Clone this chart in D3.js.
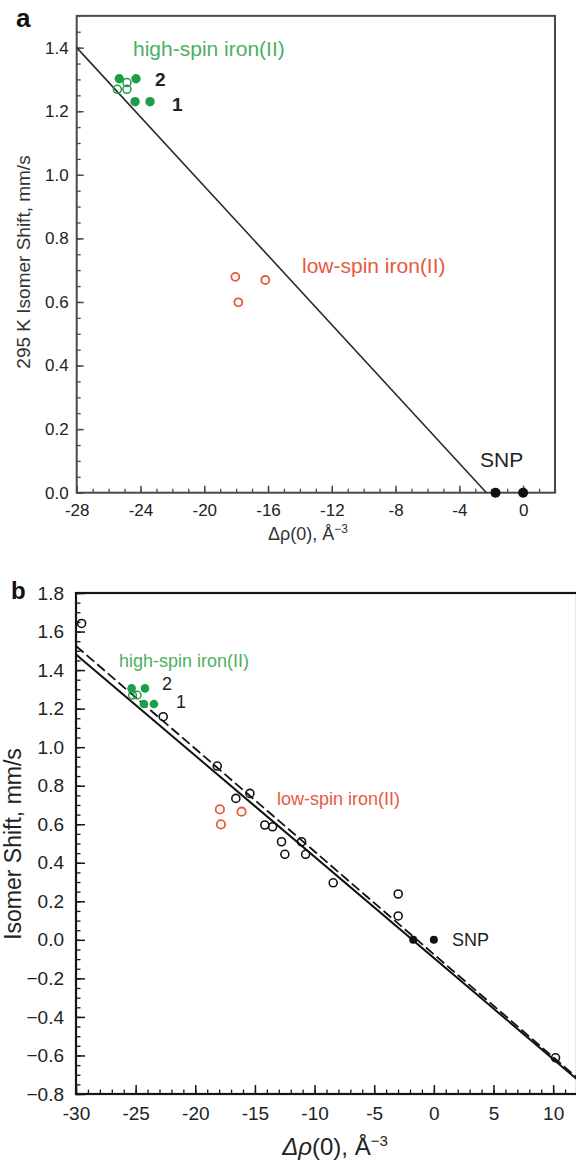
<!DOCTYPE html>
<html><head><meta charset="utf-8">
<script src="https://cdn.jsdelivr.net/npm/d3@7"></script>
<style>
body{margin:0;background:#fff;}
svg{display:block;font-family:"Liberation Sans",Arial,Helvetica,sans-serif;}
</style></head>
<body>
<svg id="c" width="576" height="1160"></svg>
<script>
// ---------- Panel a data ----------
const aXTicks = [-28,-24,-20,-16,-12,-8,-4,0];
const aYTicks = [0,0.2,0.4,0.6,0.8,1.0,1.2,1.4];
const aGreenFilledX = [-25.33,-24.28,-24.34,-23.4];
const aGreenFilledY = [1.302,1.302,1.230,1.230];
const aGreenOpenX = [-25.45,-24.85,-24.85];
const aGreenOpenY = [1.269,1.290,1.269];
const aRedOpenX = [-18.05,-16.17,-17.86];
const aRedOpenY = [0.679,0.669,0.599];
const aSNPX = [-1.73,0];
const aSNPY = [0,0];
const aLineX = [-28,-2.3];
const aLineY = [1.4,0];

// ---------- Panel b data ----------
const bXTicks = [-30,-25,-20,-15,-10,-5,0,5,10];
const bYTicks = [-0.8,-0.6,-0.4,-0.2,0.0,0.2,0.4,0.6,0.8,1.0,1.2,1.4,1.6,1.8];
const bBlackOpenX = [-29.53,-22.69,-18.16,-16.6,-15.42,-14.17,-13.52,-12.77,-12.49,-11.09,-10.75,-8.44,-2.99,-2.99,10.2];
const bBlackOpenY = [1.642,1.158,0.902,0.734,0.760,0.596,0.587,0.509,0.444,0.509,0.444,0.296,0.238,0.124,-0.612];
const bGreenFilledX = [-25.34,-24.22,-24.31,-23.47];
const bGreenFilledY = [1.305,1.305,1.224,1.224];
const bGreenOpenX = [-25.26,-24.87];
const bGreenOpenY = [1.270,1.270];
const bRedOpenX = [-17.94,-16.12,-17.85];
const bRedOpenY = [0.677,0.665,0.599];
const bSNPX = [-1.73,0];
const bSNPY = [0,0];
const bSolidX = [-30,12];
const bSolidY = [1.481,-0.724];
const bDashX = [-30,12];
const bDashY = [1.525,-0.715];

const GREEN = "#1f9e4a", GREEN_TXT = "#4bb062", RED = "#e65a3e";
const svg = d3.select("#c");
const zip = (xs, ys) => xs.map((x,i)=>[x, ys[i]]);

function axes(g, x, y, o) {
  // minor ticks
  g.append("g").attr("transform",`translate(0,${y.range()[0]})`)
    .call(d3.axisBottom(x).tickValues(o.xMinor).tickSize(-o.minor).tickFormat(""))
    .call(s=>{s.select(".domain").remove(); s.selectAll("line").attr("stroke",o.col).attr("stroke-width",1.3);});
  g.append("g").attr("transform",`translate(${x.range()[0]},0)`)
    .call(d3.axisLeft(y).tickValues(o.yMinor).tickSize(-o.minor).tickFormat(""))
    .call(s=>{s.select(".domain").remove(); s.selectAll("line").attr("stroke",o.col).attr("stroke-width",1.3);});
  // major ticks
  g.append("g").attr("transform",`translate(0,${y.range()[0]})`)
    .call(d3.axisBottom(x).tickValues(o.xTicks).tickSize(-o.major).tickPadding(o.xPad).tickFormat(o.xFmt))
    .call(s=>{s.select(".domain").remove(); s.selectAll("line").attr("stroke",o.col).attr("stroke-width",1.5);
      s.selectAll("text").attr("font-size",o.fs).attr("fill","#222").attr("font-family",null);});
  g.append("g").attr("transform",`translate(${x.range()[0]},0)`)
    .call(d3.axisLeft(y).tickValues(o.yTicks).tickSize(-o.major).tickPadding(o.yPad).tickFormat(d3.format(".1f")))
    .call(s=>{s.select(".domain").remove(); s.selectAll("line").attr("stroke",o.col).attr("stroke-width",1.5);
      s.selectAll("text").attr("font-size",o.fs).attr("fill","#222").attr("font-family",null);});
  // frame
  g.append("rect").attr("x",x.range()[0]).attr("y",y.range()[1])
    .attr("width",x.range()[1]-x.range()[0]).attr("height",y.range()[0]-y.range()[1])
    .attr("fill","none").attr("stroke",o.col).attr("stroke-width",o.fw);
}
const fmtMinus = d => (d<0?"-":"") + Math.abs(d);

// ================= Panel a =================
const ax = d3.scaleLinear([-28,2],[76.7,555]);
const ay = d3.scaleLinear([0,1.5],[492.7,15.85]);
const ga = svg.append("g");
axes(ga, ax, ay, {xTicks:aXTicks, yTicks:aYTicks, xMinor:d3.range(-28,2.01,1), yMinor:d3.range(0,1.501,0.05),
  major:7, minor:4, xPad:11, yPad:8, fs:17, col:"#4f4748", fw:2, xFmt:fmtMinus});
const lineA = d3.line().x(d=>ax(d[0])).y(d=>ay(d[1]));
ga.append("path").attr("d",lineA(zip(aLineX,aLineY))).attr("fill","none").attr("stroke","#2a2a2a").attr("stroke-width",1.6);
ga.selectAll(".agf").data(zip(aGreenFilledX,aGreenFilledY)).join("circle")
  .attr("cx",d=>ax(d[0])).attr("cy",d=>ay(d[1])).attr("r",4.7).attr("fill",GREEN);
ga.selectAll(".ago").data(zip(aGreenOpenX,aGreenOpenY)).join("circle")
  .attr("cx",d=>ax(d[0])).attr("cy",d=>ay(d[1])).attr("r",4).attr("fill","none").attr("stroke",GREEN).attr("stroke-width",1.5);
ga.selectAll(".aro").data(zip(aRedOpenX,aRedOpenY)).join("circle")
  .attr("cx",d=>ax(d[0])).attr("cy",d=>ay(d[1])).attr("r",4).attr("fill","none").attr("stroke",RED).attr("stroke-width",1.8);
ga.selectAll(".asnp").data(zip(aSNPX,aSNPY)).join("circle")
  .attr("cx",d=>ax(d[0])).attr("cy",d=>ay(d[1])).attr("r",5).attr("fill","#111");
// texts
ga.append("text").attr("x",133).attr("y",56).attr("font-size",21).attr("fill",GREEN_TXT).text("high-spin iron(II)");
ga.append("text").attr("x",155).attr("y",86).attr("font-size",19).attr("font-weight","bold").attr("fill","#222").text("2");
ga.append("text").attr("x",172).attr("y",110.5).attr("font-size",19).attr("font-weight","bold").attr("fill","#222").text("1");
ga.append("text").attr("x",302).attr("y",273).attr("font-size",21).attr("fill",RED).text("low-spin iron(II)");
ga.append("text").attr("x",480).attr("y",466.5).attr("font-size",21).attr("fill","#222").text("SNP");
ga.append("text").attr("x",16).attr("y",27).attr("font-size",26).attr("font-weight","bold").attr("fill","#111").text("a");
ga.append("text").attr("transform","translate(30,262) rotate(-90)").attr("text-anchor","middle")
  .attr("font-size",19).attr("fill","#333").text("295 K Isomer Shift, mm/s");
const axl = ga.append("text").attr("x",308).attr("y",540).attr("text-anchor","middle").attr("font-size",18).attr("fill","#333");
axl.append("tspan").text("Δρ(0), Å");
axl.append("tspan").attr("font-size",12).attr("dy",-7).text("−3");

// ================= Panel b =================
const bx = d3.scaleLinear([-30,12],[76,577]);
const by = d3.scaleLinear([-0.8,1.8],[1094,593]);
const gb = svg.append("g");
axes(gb, bx, by, {xTicks:bXTicks, yTicks:bYTicks, xMinor:d3.range(-30,12.01,1), yMinor:d3.range(-0.8,1.801,0.05),
  major:9, minor:4.5, xPad:13, yPad:12, fs:19, col:"#151515", fw:2.2, xFmt:fmtMinus});
const lineB = d3.line().x(d=>bx(d[0])).y(d=>by(d[1]));
gb.append("path").attr("d",lineB(zip(bDashX,bDashY))).attr("fill","none").attr("stroke","#111").attr("stroke-width",1.8).attr("stroke-dasharray","10,4");
gb.append("path").attr("d",lineB(zip(bSolidX,bSolidY))).attr("fill","none").attr("stroke","#111").attr("stroke-width",2);
gb.selectAll(".bbo").data(zip(bBlackOpenX,bBlackOpenY)).join("circle")
  .attr("cx",d=>bx(d[0])).attr("cy",d=>by(d[1])).attr("r",4).attr("fill","none").attr("stroke","#111").attr("stroke-width",1.6);
gb.selectAll(".bgf").data(zip(bGreenFilledX,bGreenFilledY)).join("circle")
  .attr("cx",d=>bx(d[0])).attr("cy",d=>by(d[1])).attr("r",4.3).attr("fill",GREEN);
gb.selectAll(".bgo").data(zip(bGreenOpenX,bGreenOpenY)).join("circle")
  .attr("cx",d=>bx(d[0])).attr("cy",d=>by(d[1])).attr("r",3.8).attr("fill","none").attr("stroke",GREEN).attr("stroke-width",1.5);
gb.selectAll(".bro").data(zip(bRedOpenX,bRedOpenY)).join("circle")
  .attr("cx",d=>bx(d[0])).attr("cy",d=>by(d[1])).attr("r",4.2).attr("fill","none").attr("stroke",RED).attr("stroke-width",1.8);
gb.selectAll(".bsnp").data(zip(bSNPX,bSNPY)).join("circle")
  .attr("cx",d=>bx(d[0])).attr("cy",d=>by(d[1])).attr("r",4).attr("fill","#111");
gb.append("text").attr("x",119).attr("y",667).attr("font-size",18).attr("fill",GREEN_TXT).text("high-spin iron(II)");
gb.append("text").attr("x",162).attr("y",690).attr("font-size",18).attr("fill","#222").text("2");
gb.append("text").attr("x",176).attr("y",708).attr("font-size",18).attr("fill","#222").text("1");
gb.append("text").attr("x",277).attr("y",804.5).attr("font-size",18).attr("fill",RED).text("low-spin iron(II)");
gb.append("text").attr("x",452).attr("y",946).attr("font-size",18).attr("fill","#222").text("SNP");
gb.append("text").attr("x",11).attr("y",598.5).attr("font-size",24).attr("font-weight","bold").attr("fill","#111").text("b");
gb.append("text").attr("transform","translate(21,844) rotate(-90)").attr("text-anchor","middle")
  .attr("font-size",23).attr("fill","#222").text("Isomer Shift, mm/s");
const bxl = gb.append("text").attr("x",335).attr("y",1155).attr("text-anchor","middle").attr("font-size",24).attr("fill","#222");
bxl.append("tspan").attr("font-style","italic").text("Δρ");
bxl.append("tspan").text("(0), Å");
bxl.append("tspan").attr("font-size",15).attr("dy",-9).text("−3");
</script>
</body></html>
